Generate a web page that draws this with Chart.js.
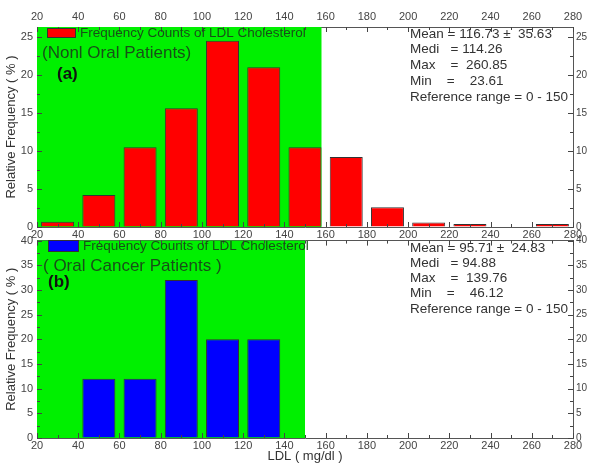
<!DOCTYPE html>
<html>
<head>
<meta charset="utf-8">
<script src="https://cdn.jsdelivr.net/npm/chart.js@4.4.1/dist/chart.umd.min.js"></script>
<style>
  body { margin: 0; background: #fff; width: 589px; height: 464px; position: relative; overflow: hidden; }
  canvas { position: absolute; left: 0; }
  #topChart { top: 0; }
  #bottomChart { top: 230px; }
</style>
</head>
<body>
<canvas id="topChart" width="589" height="245"></canvas>
<canvas id="bottomChart" width="589" height="234"></canvas>
<script>
// bin centres (LDL mg/dl, 20 wide bins) and relative frequency (%)
const nonOralBins = [30, 50, 70, 90, 110, 130, 150, 170, 190, 210, 230, 250, 270];
const nonOralFreq = [0.7, 4.2, 10.5, 15.6, 24.5, 21.0, 10.5, 9.2, 2.6, 0.6, 0.4, 0, 0.4];
const oralBins = [50, 70, 90, 110, 130];
const oralFreq = [12, 12, 32, 20, 20];

const nonOralStats = ['Mean = 116.73 \u00b1  35.63', 'Medi   = 114.26', 'Max    =  260.85', 'Min    =    23.61', 'Reference range = 0 - 150'];
const oralStats = ['Mean = 95.71 \u00b1  24.83', 'Medi   = 94.88', 'Max    =  139.76', 'Min    =    46.12', 'Reference range = 0 - 150'];

const legendLabel = 'Frequency Counts of LDL Cholesterol';
const xMin = 20, xMax = 280, xStep = 20;

const FONT = 'Liberation Sans, Arial, sans-serif';
const GREEN = '#00f000';

// green shading of the reference range + inward tick marks
const panelBackground = {
  id: 'panelBackground',
  beforeDatasetsDraw(chart, args, opts) {
    const { ctx, chartArea: a, scales } = chart;
    const xr = scales.x.getPixelForValue(opts.limit);
    ctx.save();
    ctx.fillStyle = GREEN;
    ctx.fillRect(a.left, a.top, xr - a.left, a.bottom - a.top);
    ctx.restore();
  },
  afterDatasetsDraw(chart) {
    const { ctx, chartArea: a, scales } = chart;
    ctx.save();
    ctx.strokeStyle = '#444';
    ctx.lineWidth = 1;
    const mark = (x1, y1, x2, y2) => {
      ctx.beginPath(); ctx.moveTo(x1, y1); ctx.lineTo(x2, y2); ctx.stroke();
    };
    for (const id of ['x', 'y']) {
      const s = scales[id];
      const step = s.options.ticks.stepSize;
      for (let v = s.min; v <= s.max + 1e-9; v += step / 2) {
        const major = Math.abs(((v - s.min) / step) - Math.round((v - s.min) / step)) < 1e-6;
        const len = major ? 5 : 3;
        const p = Math.round(s.getPixelForValue(v)) + 0.5;
        if (id === 'x') {
          mark(p, a.bottom, p, a.bottom - len);
          mark(p, a.top, p, a.top + len);
        } else {
          mark(a.left, p, a.left + len, p);
          mark(a.right, p, a.right - len, p);
        }
      }
    }
    ctx.restore();
  },
  afterDraw(chart, args, opts) {
    const ctx = chart.ctx;
    ctx.save();
    ctx.textBaseline = 'middle';
    // legend
    ctx.fillStyle = opts.barColor;
    ctx.strokeStyle = '#333';
    ctx.fillRect(opts.box[0], opts.box[1], opts.box[2], opts.box[3]);
    ctx.strokeRect(opts.box[0] + 0.5, opts.box[1] + 0.5, opts.box[2], opts.box[3]);
    ctx.fillStyle = '#174f17';
    ctx.font = '13.5px ' + FONT;
    ctx.fillText(legendLabel, opts.box[0] + opts.box[2] + 5, opts.box[1] + opts.box[3] / 2 + 1);
    // caption and tag
    ctx.font = '17px ' + FONT;
    ctx.fillText(opts.caption, opts.captionPos[0], opts.captionPos[1]);
    ctx.fillStyle = '#111';
    ctx.font = 'bold 17px ' + FONT;
    ctx.fillText(opts.tag, opts.tagPos[0], opts.tagPos[1]);
    // statistics
    ctx.fillStyle = '#333';
    ctx.font = '13.5px ' + FONT;
    opts.stats.forEach((t, i) => ctx.fillText(t, 410, opts.statsTop + i * opts.statsGap));
    ctx.restore();
  }
};

function scalesFor(yMax, sizes, xTitle) {
  const tickFont = { family: FONT, size: 11 };
  const common = {
    grid: { drawOnChartArea: false, drawTicks: false },
    border: { color: '#555', width: 1 }
  };
  return {
    x: {
      ...common, type: 'linear', position: 'bottom', min: xMin, max: xMax, offset: false,
      ticks: { stepSize: xStep, color: '#444', font: tickFont, padding: 1, maxRotation: 0, autoSkip: false, includeBounds: false },
      title: { display: !!xTitle, text: xTitle || '', color: '#333', font: { family: FONT, size: 13 }, padding: 0 },
      afterFit: s => { s.height = sizes.bottom; }
    },
    x2: {
      ...common, type: 'linear', axis: 'x', position: 'top', min: xMin, max: xMax, offset: false,
      ticks: { display: sizes.topLabels, stepSize: xStep, color: '#444', font: tickFont, padding: 3, maxRotation: 0, autoSkip: false, includeBounds: false },
      afterFit: s => { s.height = sizes.top; }
    },
    y: {
      ...common, type: 'linear', position: 'left', min: 0, max: yMax,
      ticks: { stepSize: 5, color: '#444', font: tickFont, padding: 4, includeBounds: false },
      title: { display: true, text: 'Relative Frequency ( % )', color: '#333', font: { family: FONT, size: 13 }, padding: { top: 4, bottom: 0 } },
      afterFit: s => { s.width = 37; }
    },
    y2: {
      ...common, type: 'linear', axis: 'y', position: 'right', min: 0, max: yMax,
      ticks: { stepSize: 5, color: '#444', font: { family: FONT, size: 10 }, padding: 3, includeBounds: false },
      afterFit: s => { s.width = 16; }
    }
  };
}

function makePanel(id, bins, freq, color, yMax, sizes, xTitle, decor) {
  return new Chart(document.getElementById(id), {
    type: 'bar',
    data: {
      datasets: [{
        data: bins.map((x, i) => ({ x: x, y: freq[i] })),
        backgroundColor: color,
        borderColor: '#333',
        borderWidth: 1,
        borderSkipped: 'bottom',
        categoryPercentage: 1.0,
        barPercentage: 0.8
      }]
    },
    options: {
      responsive: false,
      animation: false,
      layout: { padding: 0 },
      scales: scalesFor(yMax, sizes, xTitle),
      plugins: {
        legend: { display: false },
        tooltip: { enabled: false },
        panelBackground: decor
      }
    },
    plugins: [panelBackground]
  });
}

makePanel('topChart', nonOralBins, nonOralFreq, '#ff0000', 26.3,
  { top: 27, bottom: 18, topLabels: true }, null,
  { limit: 158, barColor: '#ff0000', box: [47, 28, 28, 9], caption: '(Nonl Oral Patients)', captionPos: [42, 53],
    tag: '(a)', tagPos: [57, 74], stats: nonOralStats, statsTop: 34, statsGap: 15.7 });

makePanel('bottomChart', oralBins, oralFreq, '#0000ff', 40,
  { top: 8, bottom: 26, topLabels: false }, 'LDL ( mg/dl )',
  { limit: 150, barColor: '#0000ff', box: [48, 10, 30, 11], caption: '( Oral Cancer Patients )', captionPos: [43, 36],
    tag: '(b)', tagPos: [48, 52], stats: oralStats, statsTop: 18, statsGap: 15.2 });
</script>
</body>
</html>
